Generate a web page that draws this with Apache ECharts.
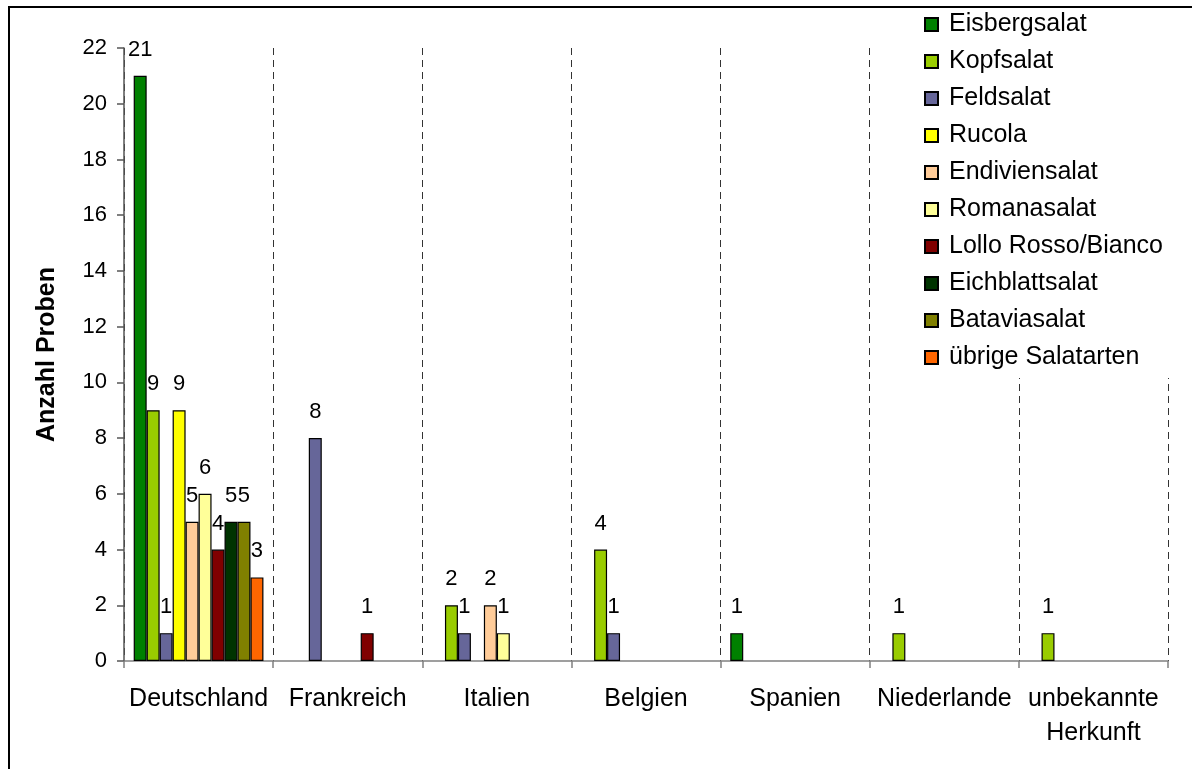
<!DOCTYPE html>
<html>
<head>
<meta charset="utf-8">
<script src="https://cdn.jsdelivr.net/npm/echarts@6/dist/echarts.min.js"></script>
<style>
  html, body { margin: 0; padding: 0; background: #fff; }
  #chart { width: 1192px; height: 769px; }
</style>
</head>
<body>
<div id="chart"></div>
<script>
// Herkunftsländer
const countries = ['Deutschland', 'Frankreich', 'Italien', 'Belgien', 'Spanien', 'Niederlande', 'unbekannte\nHerkunft']
const salads = ['Eisbergsalat', 'Kopfsalat', 'Feldsalat', 'Rucola', 'Endiviensalat', 'Romanasalat',
  'Lollo Rosso/Bianco', 'Eichblattsalat', 'Bataviasalat', 'übrige Salatarten']
const colorList = ['#008000', '#99cc00', '#666699', '#ffff00', '#ffcc99', '#ffff99', '#800000', '#003300', '#808000', '#ff6600']

// Anzahl Proben je Salatart, Reihenfolge wie countries
const eisbergsalat   = [21, 0, 0, 0, 1, 0, 0]
const kopfsalat      = [9, 0, 2, 4, 0, 1, 1]
const feldsalat      = [1, 8, 1, 1, 0, 0, 0]
const rucola         = [9, 0, 0, 0, 0, 0, 0]
const endiviensalat  = [5, 0, 2, 0, 0, 0, 0]
const romanasalat    = [6, 0, 1, 0, 0, 0, 0]
const lolloRosso     = [4, 1, 0, 0, 0, 0, 0]
const eichblattsalat = [5, 0, 0, 0, 0, 0, 0]
const bataviasalat   = [5, 0, 0, 0, 0, 0, 0]
const uebrige        = [3, 0, 0, 0, 0, 0, 0]
const values = [eisbergsalat, kopfsalat, feldsalat, rucola, endiviensalat, romanasalat,
  lolloRosso, eichblattsalat, bataviasalat, uebrige]

const yTicks = { min: 0, max: 22, step: 2 }
const font = '"Liberation Sans", Arial, sans-serif'

var chartDom = document.getElementById('chart')
const chart = echarts.init(chartDom)
const option = {
  backgroundColor: '#fff',
  animation: false,
  color: colorList,
  textStyle: { fontFamily: font, color: '#000' },
  grid: { left: 124, right: 24, top: 48, bottom: 108 },
  // Rahmen um das ganze Diagramm
  graphic: [{
    type: 'rect',
    shape: { x: 9, y: 7, width: 1250, height: 850 },
    style: { fill: 'none', stroke: '#000', lineWidth: 2 },
    silent: true,
    z: -1
  }],
  legend: {
    orient: 'vertical',
    left: 912,
    top: 9,
    padding: [3, 16, 8, 12],
    backgroundColor: '#fff',
    itemWidth: 13,
    itemHeight: 13,
    itemGap: 12,
    icon: 'rect',
    z: 10,
    textStyle: { fontFamily: font, fontSize: 25, lineHeight: 24, color: '#000', padding: [0, 0, 0, 6] },
    data: salads
  },
  xAxis: {
    type: 'category',
    data: countries,
    axisLine: { lineStyle: { color: '#808080', width: 1.5 } },
    axisTick: { show: true, length: 7, lineStyle: { color: '#808080', width: 1.5 } },
    axisLabel: { interval: 0, fontSize: 25, color: '#000', margin: 21, lineHeight: 34 },
    splitLine: { show: true, lineStyle: { color: '#333', type: [7, 5], width: 1 } }
  },
  yAxis: {
    type: 'value',
    min: yTicks.min,
    max: yTicks.max,
    interval: yTicks.step,
    name: 'Anzahl Proben',
    nameLocation: 'middle',
    nameGap: 64,
    nameTextStyle: { fontSize: 25, fontWeight: 'bold', color: '#000' },
    axisLine: { show: true, lineStyle: { color: '#555', width: 1.5 } },
    axisTick: { show: true, length: 7, lineStyle: { color: '#555', width: 1.5 } },
    axisLabel: { fontSize: 22, color: '#000', margin: 17 },
    splitLine: { show: false }
  },
  series: salads.map((name, i) => ({
    name: name,
    type: 'bar',
    barGap: '0%',
    barCategoryGap: '13%',
    // 0-Werte werden wie im Original nicht gezeichnet
    data: values[i].map(v => v === 0 ? '-' : v),
    itemStyle: { borderColor: '#000', borderWidth: 1.2 },
    label: { show: true, position: 'top', distance: 15, fontSize: 22, color: '#000' }
  }))
}
chart.setOption(option)
</script>
</body>
</html>
